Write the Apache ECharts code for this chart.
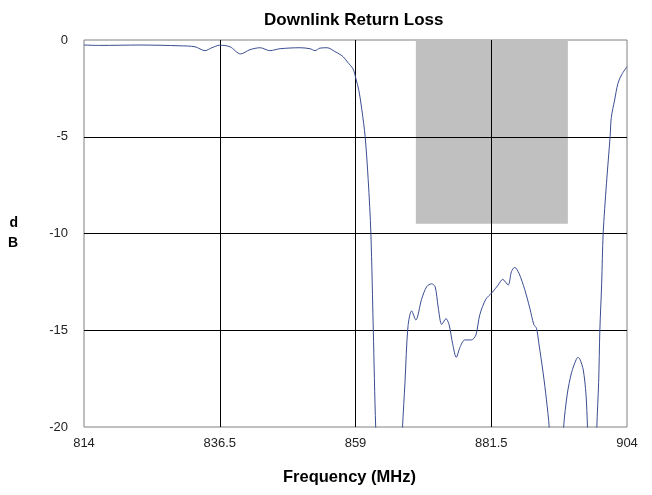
<!DOCTYPE html>
<html>
<head>
<meta charset="utf-8">
<script src="https://cdn.jsdelivr.net/npm/echarts@6/dist/echarts.min.js"></script>
<style>html,body{margin:0;padding:0;background:#fff}#c{width:652px;height:495px}</style>
</head>
<body>
<div id="c"></div>
<script>
// Frequency (MHz) and return loss (dB)
var freq = [814.0, 816.6, 823.3, 829.9, 832.4, 834.05, 835.2, 836.5, 838.2, 839.95, 841.5, 843.2, 844.8, 846.5, 849.8, 851.45, 852.3, 853.1, 854.3, 855.6, 856.9, 857.7, 858.6, 859.07, 859.55, 860.05, 860.6, 861.1, 861.55, 861.95, 862.35, 863.2, 864.5, 866.0, 866.8,
  867.2, 867.7, 868.3, 869.0, 869.95, 870.8, 871.6, 872.2, 872.7, 873.3, 874.0, 874.5, 875.1, 875.7, 876.3, 877.1, 878.2, 878.95, 879.6, 880.6, 881.65, 882.65, 883.4, 884.3, 884.85, 885.4, 886.1, 887.05, 887.9, 888.55, 889.0, 889.4, 890.1, 890.65, 891.1, 891.7, 892.3, 892.9, 893.5,
  894.1, 894.8, 895.6, 895.9, 896.2, 896.75, 897.2, 897.45, 897.9, 898.3, 898.7, 899.0, 899.3, 899.5, 899.8, 900.05, 900.6, 901.2, 901.4, 901.95, 902.5, 903.1, 904.0];
var returnLoss = [-0.26, -0.28, -0.26, -0.3, -0.35, -0.55, -0.4, -0.27, -0.35, -0.72, -0.5, -0.4, -0.55, -0.45, -0.4, -0.45, -0.55, -0.42, -0.4, -0.6, -0.85, -1.15, -1.5, -2.0, -2.6, -3.6, -5.0, -7.2, -10.0, -15.0, -20.0, -26.0, -30.0, -26.0, -20.0,
  -17.7, -14.8, -14.0, -14.47, -13.4, -12.75, -12.6, -12.75, -13.8, -14.7, -14.4, -14.7, -15.7, -16.4, -15.9, -15.5, -15.5, -15.25, -14.2, -13.4, -13.05, -12.66, -12.37, -12.66, -11.97, -11.75, -12.06, -12.9, -13.87, -14.7, -14.9, -15.7, -17.2, -18.6, -20.0, -24.0, -28.0, -24.0, -20.0,
  -18.3, -17.2, -16.5, -16.4, -16.5, -17.05, -18.3, -20.0, -24.0, -26.0, -24.0, -20.0, -17.7, -15.0, -12.6, -10.0, -7.4, -5.0, -4.0, -3.1, -2.24, -1.8, -1.38];
// Shaded band
var bandFreq = [869.0, 894.2];
var bandDb = [0, -9.5];
var xTicks = [814, 836.5, 859, 881.5, 904];
var yTicks = [-20, -15, -10, -5, 0];

var data = freq.map(function (f, i) { return [f, returnLoss[i]]; });

var chart = echarts.init(document.getElementById('c'), null, {renderer: 'canvas'});
chart.setOption({
  animation: false,
  backgroundColor: '#fff',
  title: {
    text: 'Downlink Return Loss',
    left: 259, top: 7,
    textStyle: {fontFamily: 'Liberation Sans', fontSize: 17, fontWeight: 'bold', color: '#000'}
  },
  grid: {left: 84, right: 25, top: 40, bottom: 68, show: true, borderColor: '#808080', borderWidth: 1, backgroundColor: 'transparent'},
  xAxis: {
    type: 'value', min: xTicks[0], max: xTicks[xTicks.length - 1], interval: 22.5, z: 3,
    name: 'Frequency (MHz)', nameLocation: 'middle', nameGap: 42,
    nameTextStyle: {fontFamily: 'Liberation Sans', fontSize: 16.5, fontWeight: 'bold', color: '#000', padding: [0, 12, 0, 0]},
    axisLine: {show: false}, axisTick: {show: false},
    axisLabel: {margin: 10, fontFamily: 'Liberation Sans', fontSize: 13, color: '#222', formatter: function (v) { return String(v); }},
    splitLine: {show: true, showMinLine: false, showMaxLine: false, lineStyle: {color: '#000', width: 1}}
  },
  yAxis: {
    type: 'value', min: yTicks[0], max: yTicks[yTicks.length - 1], interval: 5, z: 3,
    name: 'd\nB', nameLocation: 'middle', nameGap: 66, nameRotate: 0,
    nameTextStyle: {fontFamily: 'Liberation Sans', fontSize: 14, fontWeight: 'bold', color: '#000', lineHeight: 20, padding: [0, 0, 14, 0]},
    axisLine: {show: false}, axisTick: {show: false},
    axisLabel: {margin: 16, fontFamily: 'Liberation Sans', fontSize: 13, color: '#222'},
    splitLine: {show: true, showMinLine: false, showMaxLine: false, lineStyle: {color: '#000', width: 1}}
  },
  series: [
    {
      type: 'line', z: 1, data: [], silent: true,
      markArea: {
        silent: true,
        itemStyle: {color: '#c0c0c0'},
        data: [[{coord: [bandFreq[0], bandDb[0]]}, {coord: [bandFreq[1], bandDb[1]]}]]
      }
    },
    {
      type: 'line', z: 5, data: data, showSymbol: false, symbol: 'none', smooth: 0.3, clip: true,
      lineStyle: {color: '#3b4d92', width: 1}
    }
  ]
});
</script>
</body>
</html>
